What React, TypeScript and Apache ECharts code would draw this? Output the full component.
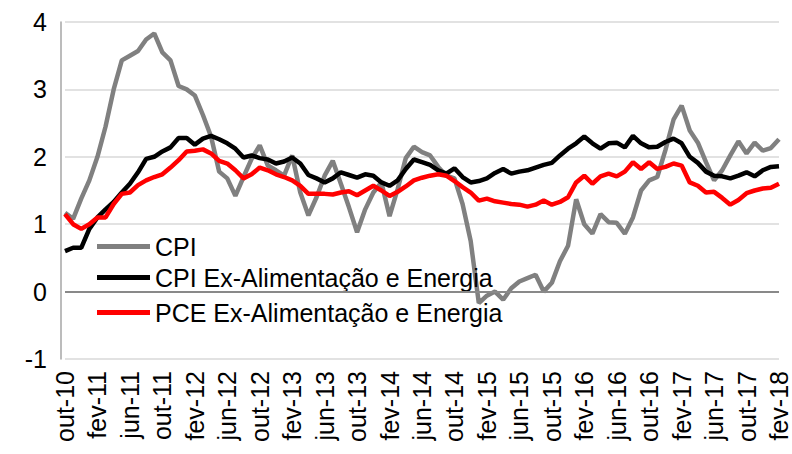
import React, { useEffect, useRef } from "react";
import * as echarts from "echarts";

const monthNames = ["jan", "fev", "mar", "abr", "mai", "jun", "jul", "ago", "set", "out", "nov", "dez"];
const startYear = 2010;
const startMonth = 9; // out
const pointCount = 89;

const categories: string[] = [];
for (let k = 0; k < pointCount; k++) {
  const m = startMonth + k;
  const y = startYear + Math.floor(m / 12);
  categories.push(monthNames[m % 12] + "-" + String(y % 100).padStart(2, "0"));
}

const seriesNames = ["CPI", "CPI Ex-Alimentação e Energia", "PCE Ex-Alimentação e Energia"];

const cpi = [
  1.17, 1.08, 1.38,
  1.65, 2.0, 2.45, 3.0, 3.43, 3.5, 3.57, 3.74, 3.83, 3.55, 3.43, 3.05,
  3.0, 2.91, 2.62, 2.3, 1.78, 1.68, 1.42, 1.7, 1.97, 2.17, 1.87, 1.8,
  1.72, 2.02, 1.47, 1.13, 1.4, 1.72, 1.94, 1.6, 1.25, 0.88, 1.22, 1.47,
  1.62, 1.12, 1.52, 1.98, 2.15, 2.07, 2.02, 1.85, 1.72, 1.68, 1.3, 0.75,
  -0.17, -0.06, 0.0, -0.12, 0.05, 0.15, 0.2, 0.25, 0.0, 0.13, 0.45, 0.68,
  1.37, 1.0, 0.86, 1.15, 1.03, 1.02, 0.86, 1.1, 1.5, 1.65, 1.7, 2.1,
  2.55, 2.76, 2.39, 2.21, 1.92, 1.65, 1.8, 2.02, 2.23, 2.05, 2.21, 2.09,
  2.13, 2.26,
];

const coreCpi = [
  0.6, 0.65, 0.65,
  0.93, 1.1, 1.22, 1.33, 1.47, 1.6, 1.77, 1.97, 2.0, 2.08, 2.14, 2.28,
  2.28, 2.18, 2.27, 2.31, 2.26, 2.2, 2.12, 1.99, 2.02, 1.98, 1.96, 1.9,
  1.93, 1.99, 1.9, 1.73, 1.68, 1.62, 1.68, 1.77, 1.73, 1.69, 1.74, 1.72,
  1.62, 1.57, 1.65, 1.82, 1.96, 1.92, 1.88, 1.8, 1.75, 1.83, 1.7, 1.62,
  1.64, 1.68, 1.76, 1.82, 1.75, 1.78, 1.8, 1.84, 1.88, 1.91, 2.02, 2.12,
  2.2, 2.3, 2.2, 2.12, 2.2, 2.21, 2.14, 2.31, 2.2, 2.14, 2.15, 2.22,
  2.27, 2.2, 2.0, 1.91, 1.78, 1.72, 1.71, 1.68, 1.72, 1.77, 1.71, 1.8,
  1.85, 1.86,
];

const corePce = [
  1.15, 1.0, 0.93,
  1.0, 1.1, 1.1, 1.3, 1.45, 1.47, 1.58, 1.65, 1.7, 1.74, 1.84, 1.95,
  2.08, 2.09, 2.11, 2.05, 1.94, 1.9, 1.8, 1.68, 1.74, 1.84, 1.8, 1.74,
  1.7, 1.65, 1.57, 1.45, 1.45, 1.45, 1.44, 1.47, 1.49, 1.43, 1.5, 1.57,
  1.5, 1.42, 1.48, 1.56, 1.65, 1.69, 1.72, 1.74, 1.72, 1.64, 1.55, 1.47,
  1.35, 1.38, 1.34, 1.32, 1.3, 1.29, 1.26, 1.29, 1.35, 1.29, 1.33, 1.4,
  1.62, 1.72, 1.6, 1.71, 1.75, 1.71, 1.78, 1.92, 1.82, 1.92, 1.82, 1.85,
  1.9, 1.87, 1.62, 1.57, 1.47, 1.48, 1.39, 1.29, 1.36, 1.46, 1.5, 1.53,
  1.54, 1.6,
];

const colors = ["#808080", "#000000", "#ff0000"];
const FONT = "'Liberation Sans', Arial, sans-serif";

export default function App() {
  const ref = useRef<HTMLDivElement>(null);
  useEffect(() => {
    if (!ref.current) return;
    const chart = echarts.init(ref.current, undefined, { renderer: "svg" });
    const legendTops = [234, 265, 300];
    chart.setOption({
      animation: false,
      textStyle: { fontFamily: FONT },
      grid: { left: 65, right: 13, top: 22, bottom: 95, containLabel: false },
      legend: seriesNames.map((n, k) => ({
        data: [n],
        left: 97,
        top: legendTops[k],
        padding: 0,
        icon: "rect",
        itemWidth: 53,
        itemHeight: 5,
        itemGap: 0,
        textStyle: { fontSize: 25, color: "#000", fontFamily: FONT },
        selectedMode: false,
      })),
      xAxis: {
        type: "category",
        data: categories,
        boundaryGap: false,
        axisLine: { show: false },
        axisTick: { show: false },
        splitLine: { show: false },
        axisLabel: {
          interval: 3,
          rotate: 90,
          fontSize: 25,
          color: "#000",
          margin: 12,
          fontFamily: FONT,
        },
      },
      yAxis: {
        type: "value",
        min: -1,
        max: 4,
        interval: 1,
        offset: 4,
        axisLine: { show: true, lineStyle: { color: "#a6a6a6", width: 1.5 } },
        axisTick: { show: false },
        splitLine: { show: true, lineStyle: { color: "#d9d9d9", width: 1.5 } },
        axisLabel: { fontSize: 25, color: "#000", margin: 14, fontFamily: FONT },
      },
      series: [
        {
          name: seriesNames[0],
          type: "line",
          data: cpi,
          symbol: "none",
          color: colors[0],
          lineStyle: { color: colors[0], width: 4.5 },
          markLine: {
            silent: true,
            symbol: "none",
            label: { show: false },
            lineStyle: { color: "#898989", width: 2, type: "solid" },
            data: [{ yAxis: 0 }],
          },
          z: 2,
        },
        {
          name: seriesNames[1],
          type: "line",
          data: coreCpi,
          symbol: "none",
          color: colors[1],
          lineStyle: { color: colors[1], width: 4.5 },
          z: 3,
        },
        {
          name: seriesNames[2],
          type: "line",
          data: corePce,
          symbol: "none",
          color: colors[2],
          lineStyle: { color: colors[2], width: 4.5 },
          z: 4,
        },
      ],
    });
    return () => chart.dispose();
  }, []);
  return (
    <div
      ref={ref}
      style={{ position: "fixed", left: 0, top: 0, width: 792, height: 454, background: "#fff" }}
    />
  );
}
